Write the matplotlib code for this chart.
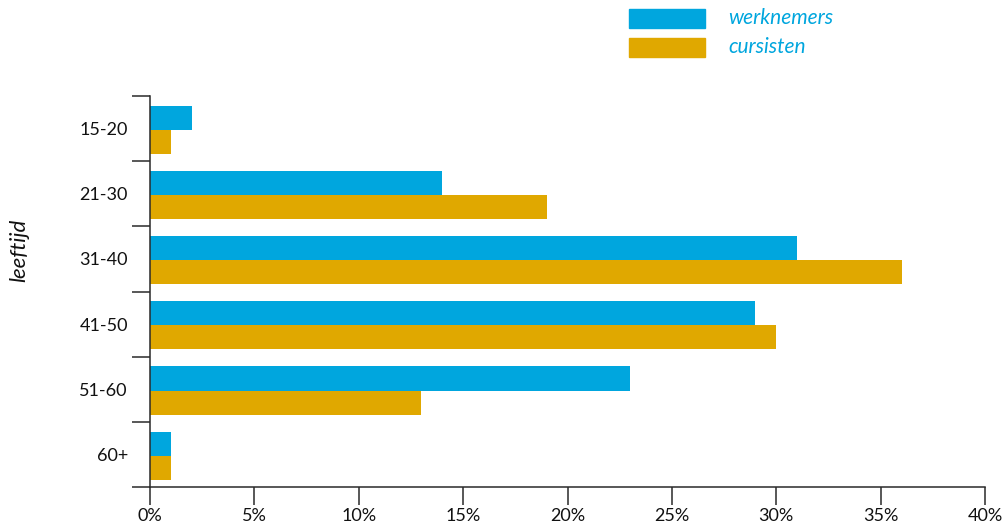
import matplotlib
matplotlib.use("Agg")
import matplotlib.pyplot as plt
from matplotlib.patches import Rectangle
from matplotlib.ticker import FixedLocator, FuncFormatter
import numpy as np

plt.rcParams['font.family'] = ['Lato', 'DejaVu Sans']

# leeftijdsgroepen en aandelen in procenten
groepen = ['15-20', '21-30', '31-40', '41-50', '51-60', '60+']
werknemers = [2, 14, 31, 29, 23, 1]
cursisten = [1, 19, 36, 30, 13, 1]
series = ['werknemers', 'cursisten']

blauw = '#00a6de'
oker = '#e0a800'
lijn = '#2a2a2a'

fig = plt.figure(figsize=(10.05, 5.27), dpi=100)
ax = fig.add_axes([150 / 1005, 40 / 527, 835 / 1005, 391 / 527])

y = np.arange(len(groepen)) + 0.5
h = 0.37
ax.barh(y - h / 2 + 0.02, werknemers, height=h, color=blauw)
ax.barh(y + h / 2 + 0.02, cursisten, height=h, color=oker)

ax.set_xlim(0, 40)
ax.set_ylim(len(groepen), 0)

ax.set_xticks(np.arange(0, 41, 5))
ax.xaxis.set_major_formatter(FuncFormatter(lambda v, p: '%d%%' % v))
ax.tick_params(axis='x', length=13, width=1.1, color=lijn, pad=2,
               labelsize=13, labelcolor='#111111')

# scheidingsstreepjes tussen de groepen, labels in het midden
ax.yaxis.set_major_locator(FixedLocator(np.arange(len(groepen) + 1)))
ax.yaxis.set_minor_locator(FixedLocator(y))
ax.set_yticklabels([], minor=False)
ax.set_yticklabels(groepen, minor=True)
ax.tick_params(axis='y', which='major', length=13, width=1.1, color=lijn)
ax.tick_params(axis='y', which='minor', length=0, pad=16,
               labelsize=13, labelcolor='#111111')

for s in ['top', 'right']:
    ax.spines[s].set_visible(False)
for s in ['left', 'bottom']:
    ax.spines[s].set_color(lijn)
    ax.spines[s].set_linewidth(1.1)

fig.text(19 / 1005, 1 - 250 / 527, 'leeftijd', rotation=90, style='italic',
         fontsize=16, color='#111111', ha='center', va='center')

# legenda
for i, (naam, kleur) in enumerate(zip(series, [blauw, oker])):
    top = 9 + i * 29
    fig.patches.append(Rectangle((629 / 1005, 1 - (top + 19) / 527), 76 / 1005, 19 / 527,
                                 transform=fig.transFigure, color=kleur))
    fig.text(728 / 1005, 1 - (top + 9) / 527, naam, style='italic', fontsize=15,
             color=blauw, ha='left', va='center')

fig.savefig('out.png', dpi=100)
